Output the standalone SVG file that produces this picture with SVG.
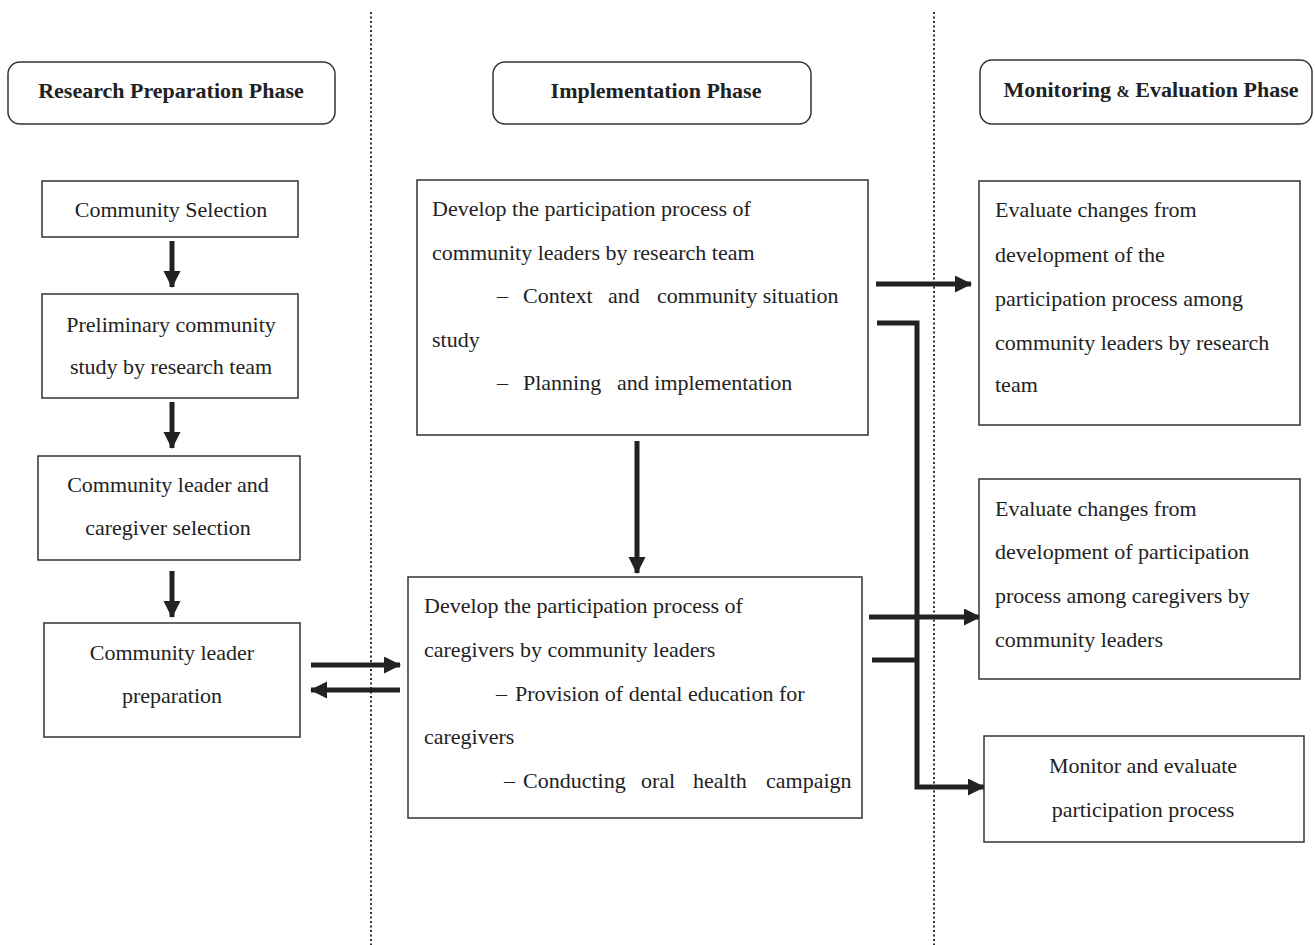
<svg xmlns="http://www.w3.org/2000/svg" width="1315" height="945" viewBox="0 0 1315 945">
<style>
.box{fill:#fff;stroke:#333;stroke-width:1.5}
.hdr{font-family:"Liberation Serif",serif;font-weight:bold;font-size:22px;fill:#222}
.t{font-family:"Liberation Serif",serif;font-size:22px;fill:#222}
.c{text-anchor:middle}
.ln{fill:none;stroke:#222;stroke-width:5}
.dot{stroke:#333;stroke-width:2;stroke-dasharray:2 2.5}
</style>
<defs>
<marker id="ah" markerUnits="userSpaceOnUse" markerWidth="18" markerHeight="18" refX="16" refY="8.5" orient="auto">
<path d="M0,0 L17,8.5 L0,17 Z" fill="#222"/>
</marker>
</defs>
<rect width="1315" height="945" fill="#fff"/>
<g id="dividers">
<line class="dot" x1="371" y1="12" x2="371" y2="945"/>
<line class="dot" x1="934" y1="12" x2="934" y2="945"/>
</g>
<g id="connectors">
<line class="ln" x1="172" y1="241" x2="172" y2="287" marker-end="url(#ah)"/>
<line class="ln" x1="172" y1="402" x2="172" y2="448" marker-end="url(#ah)"/>
<line class="ln" x1="172" y1="571" x2="172" y2="617" marker-end="url(#ah)"/>
<line class="ln" x1="311" y1="665" x2="400" y2="665" marker-end="url(#ah)"/>
<line class="ln" x1="400" y1="690" x2="311" y2="690" marker-end="url(#ah)"/>
<line class="ln" x1="637" y1="441" x2="637" y2="573" marker-end="url(#ah)"/>
<line class="ln" x1="876" y1="284" x2="971" y2="284" marker-end="url(#ah)"/>
<line class="ln" x1="869" y1="617" x2="980" y2="617" marker-end="url(#ah)"/>
<path class="ln" d="M877,323 H917 V787 H984" marker-end="url(#ah)"/>
<line class="ln" x1="872" y1="660" x2="917" y2="660"/>
</g>
<g id="hdr-research">
<rect class="box" x="8" y="62" width="327" height="62" rx="12"/>
<text class="hdr c" x="171" y="98">Research Preparation Phase</text>
</g>
<g id="hdr-implementation">
<rect class="box" x="493" y="62" width="318" height="62" rx="12"/>
<text class="hdr c" x="656" y="98">Implementation Phase</text>
</g>
<g id="hdr-monitoring">
<rect class="box" x="980" y="60" width="332" height="64" rx="12"/>
<text class="hdr c" x="1151" y="97">Monitoring <tspan font-size="16">&amp;</tspan> Evaluation Phase</text>
</g>
<g id="n-selection">
<rect class="box" x="42" y="181" width="256" height="56"/>
<text class="t c" x="171" y="217">Community Selection</text>
</g>
<g id="n-preliminary">
<rect class="box" x="42" y="294" width="256" height="104"/>
<text class="t c" x="171" y="332">Preliminary community</text>
<text class="t c" x="171" y="374">study by research team</text>
</g>
<g id="n-leader-selection">
<rect class="box" x="38" y="456" width="262" height="104"/>
<text class="t c" x="168" y="492">Community leader and</text>
<text class="t c" x="168" y="535">caregiver selection</text>
</g>
<g id="n-leader-prep">
<rect class="box" x="44" y="623" width="256" height="114"/>
<text class="t c" x="172" y="660">Community leader</text>
<text class="t c" x="172" y="703">preparation</text>
</g>
<g id="n-impl-leaders">
<rect class="box" x="417" y="180" width="451" height="255"/>
<text class="t" x="432" y="216">Develop the participation process of</text>
<text class="t" x="432" y="260">community leaders by research team</text>
<text class="t" y="303"><tspan x="497">–</tspan><tspan x="523">Context</tspan><tspan x="608">and</tspan><tspan x="657">community situation</tspan></text>
<text class="t" x="432" y="347">study</text>
<text class="t" y="390"><tspan x="497">–</tspan><tspan x="523">Planning</tspan><tspan x="617">and implementation</tspan></text>
</g>
<g id="n-impl-caregivers">
<rect class="box" x="408" y="577" width="454" height="241"/>
<text class="t" x="424" y="613">Develop the participation process of</text>
<text class="t" x="424" y="657">caregivers by community leaders</text>
<text class="t" y="701"><tspan x="496">–</tspan><tspan x="515">Provision of dental education for</tspan></text>
<text class="t" x="424" y="744">caregivers</text>
<text class="t" y="788"><tspan x="504">–</tspan><tspan x="523">Conducting</tspan><tspan x="641">oral</tspan><tspan x="693">health</tspan><tspan x="766">campaign</tspan></text>
</g>
<g id="n-eval-leaders">
<rect class="box" x="979" y="181" width="321" height="244"/>
<text class="t" x="995" y="217">Evaluate changes from</text>
<text class="t" x="995" y="262">development of the</text>
<text class="t" x="995" y="306">participation process among</text>
<text class="t" x="995" y="350">community leaders by research</text>
<text class="t" x="995" y="392">team</text>
</g>
<g id="n-eval-caregivers">
<rect class="box" x="979" y="479" width="321" height="200"/>
<text class="t" x="995" y="516">Evaluate changes from</text>
<text class="t" x="995" y="559">development of participation</text>
<text class="t" x="995" y="603">process among caregivers by</text>
<text class="t" x="995" y="647">community leaders</text>
</g>
<g id="n-monitor">
<rect class="box" x="984" y="736" width="320" height="106"/>
<text class="t c" x="1143" y="773">Monitor and evaluate</text>
<text class="t c" x="1143" y="817">participation process</text>
</g>
</svg>
